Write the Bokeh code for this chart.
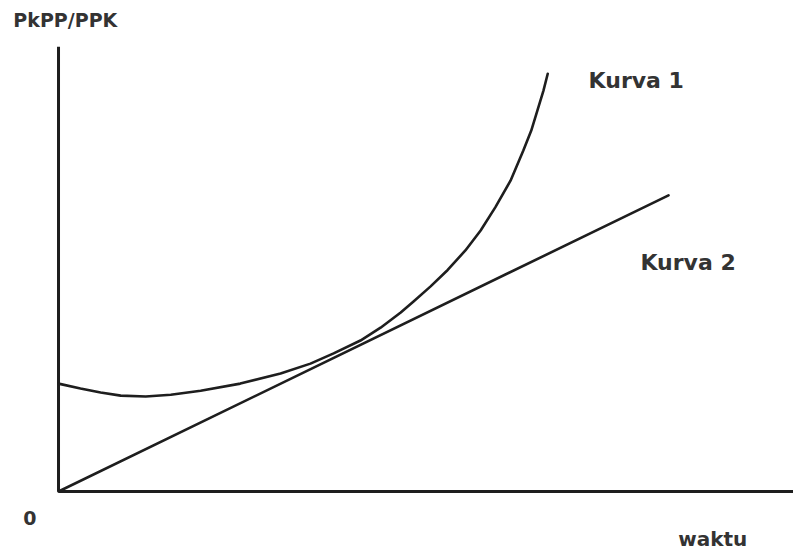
from bokeh.plotting import figure
from bokeh.models import Range1d
from bokeh.embed import file_html
from bokeh.resources import INLINE
from bokeh.core.properties import value

# Kurva 1 (U-shaped then rising steeply)
k1_x = [0.0, 0.36, 0.69, 1.02, 1.43, 1.84, 2.33, 2.98, 3.64, 4.13, 4.51, 4.95, 5.28,
        5.61, 5.82, 6.10, 6.38, 6.67, 6.92, 7.16, 7.41, 7.62, 7.75, 7.85, 7.95, 8.02]
k1_y = [2.43, 2.32, 2.23, 2.16, 2.14, 2.18, 2.27, 2.43, 2.66, 2.88, 3.11, 3.40, 3.69,
        4.03, 4.28, 4.62, 4.99, 5.43, 5.88, 6.40, 7.00, 7.68, 8.13, 8.58, 9.03, 9.41]
# Kurva 2 (straight line from origin)
k2_x = [0.0, 10.0]
k2_y = [0.0, 6.67]
# axes extents
y_axis_top = 10.02
x_axis_end = 12.1

labels = ["PkPP/PPK", "Kurva 1", "Kurva 2", "0", "waktu"]
label_x = [-0.74, 8.69, 9.54, -0.47, 10.16]
label_y = [10.61, 9.26, 5.16, -0.59, -1.06]
label_size = ["19px", "22px", "22px", "19px", "20px"]
label_align = ["left", "left", "left", "center", "left"]

W, H = 793, 550
p = figure(width=W, height=H, output_backend="svg", toolbar_location=None,
           x_range=Range1d(-0.951, 12.049), y_range=Range1d(-1.329, 11.059),
           min_border=0, outline_line_color=None)
p.axis.visible = False
p.grid.visible = False

ink = "#1e1e1e"
# axes
p.line([0, 0], [0, y_axis_top], line_color=ink, line_width=3)
p.line([0, x_axis_end], [0, 0], line_color=ink, line_width=3)
# curves
p.line(k1_x, k1_y, line_color=ink, line_width=2.6, line_join="round", line_cap="round")
p.line(k2_x, k2_y, line_color=ink, line_width=2.6, line_cap="round")

for t, x, y, s, a in zip(labels, label_x, label_y, label_size, label_align):
    p.text(x=[x], y=[y], text=[t], text_font=value("DejaVu Sans"), text_font_style="bold",
           text_font_size=s, text_color="#333333", text_align=a, text_baseline="middle")

open("out.html", "w").write(file_html(p, INLINE))
